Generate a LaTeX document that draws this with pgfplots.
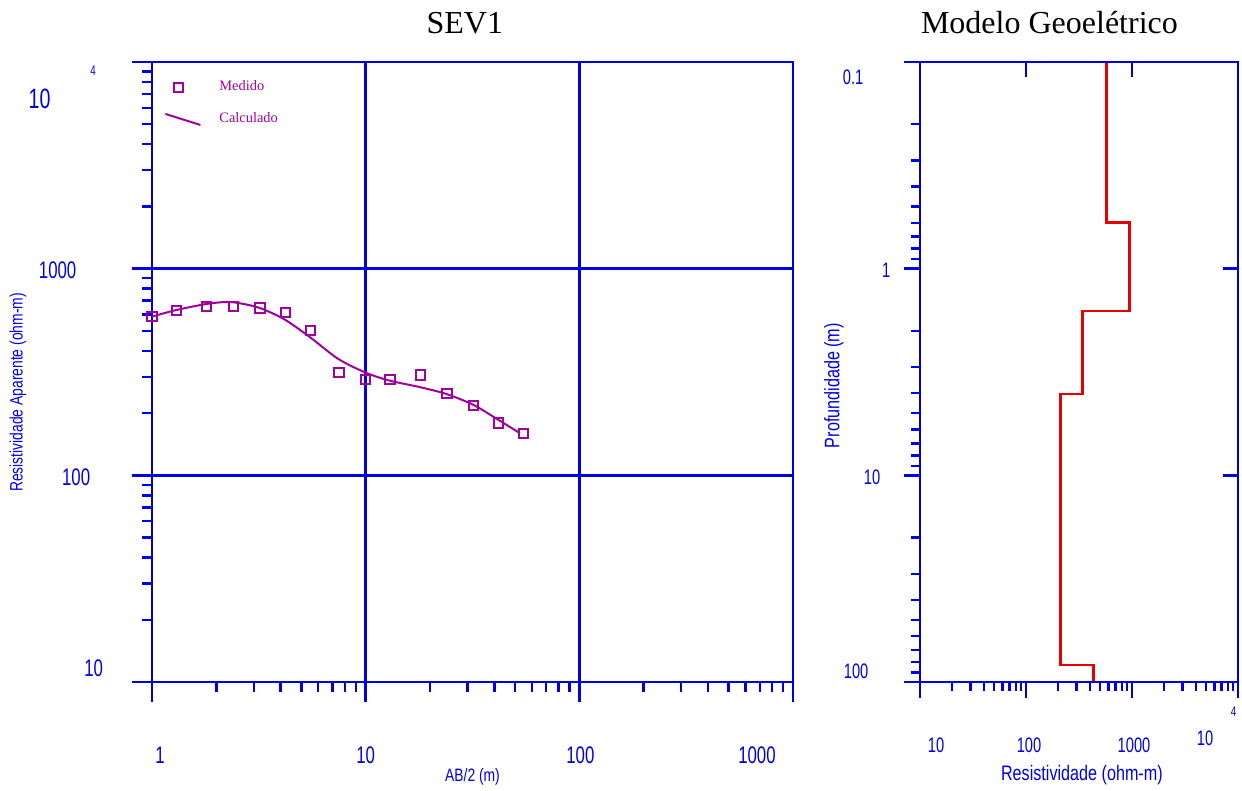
\documentclass[border=0pt]{standalone}
\usepackage{pgfplots}
\pgfplotsset{compat=1.18}
\usepackage{fontspec}
\setmainfont{Liberation Serif}
\newfontfamily\tickfont[FakeStretch=0.7]{Liberation Sans}
\newfontfamily\labfont[FakeStretch=0.77]{Liberation Sans}
\definecolor{axblue}{RGB}{0,0,230}
\definecolor{pur}{RGB}{160,0,160}
\definecolor{stepred}{RGB}{230,0,0}
\newlength\corrLy \setlength\corrLy{10pt}
\newlength\corrLx \setlength\corrLx{10pt}
\newlength\corrRy \setlength\corrRy{8pt}
\newlength\corrRx \setlength\corrRx{8pt}
% zero-size label whose visible centre is at (dx,dy) from the node point
\newcommand\TL[4]{\makebox[0pt][l]{\hspace*{\dimexpr#1\relax}\makebox[0pt]{\smash{\raisebox{\dimexpr#2-#3pt*358/1000\relax}{\fontsize{#3}{#3}\selectfont #4}}}}}
\newcommand\LY[4]{\TL{#1+\corrLy}{#2}{#3}{#4}}
\newcommand\LX[4]{\TL{#1}{#2+\corrLx}{#3}{#4}}
\newcommand\RY[4]{\TL{#1+\corrRy}{#2}{#3}{#4}}
\newcommand\RX[4]{\TL{#1}{#2+\corrRx}{#3}{#4}}

\pgfplotstableread{
ab rho
1.0 586
1.3 626
1.8 658
2.4 655
3.2 645
4.2 615
5.5 500
7.5 315
10 290
13 290
18 306
24 248
32 217
42 179
55 159
}\medido

\pgfplotstableread{
ab rho
1.0 586
1.3 631
1.8 675
2.24 690
2.58 680
3.2 645
4.16 569
5.49 466
7.44 366
10 314
13 287
18 267
24 247
32 219
42 185
52.7 160
}\calculado

\pgfplotstableread{
res depth
577 0.1
577 0.599
943 0.599
943 1.602
340 1.602
340 4.04
212 4.04
212 82.6
431 82.6
431 100
}\modelo

\begin{document}
\begin{tikzpicture}
% ---------------- left: SEV1 ----------------
\begin{axis}[
  at={(76pt,-31pt)}, anchor=north west,
  scale only axis, width=320.5pt, height=310pt,
  xmode=log, ymode=log,
  xmin=1, xmax=1000, ymin=10, ymax=10000,
  xtick={1,10,100,1000}, ytick={10,100,1000,10000},
  minor xtick={2,3,4,5,6,7,8,9,20,30,40,50,60,70,80,90,200,300,400,500,600,700,800,900},
  minor ytick={20,30,40,50,60,70,80,90,200,300,400,500,600,700,800,900,2000,3000,4000,5000,6000,7000,8000,9000},
  xtick pos=left, ytick pos=left, tick align=outside,
  major tick length=10pt, minor tick length=5pt,
  grid=major, major grid style={axblue, line width=1.2pt},
  axis line style={axblue, line width=1.3pt},
  tick style={axblue, line width=1.2pt},
  ticklabel style={inner sep=0pt, font=\tickfont, text=axblue},
  xticklabels={{\LX{4pt}{-36pt}{12}{1}},{\LX{0pt}{-36pt}{12}{10}},{\LX{0.5pt}{-36pt}{12}{100}},{\LX{-18pt}{-36pt}{12}{1000}}},
  yticklabels={{\LY{-28.5pt}{7pt}{12}{10}},{\LY{-37.25pt}{-1pt}{12}{100}},{\LY{-46.5pt}{-0.5pt}{12}{1000}},{\LY{-55.5pt}{-18pt}{14}{10}\LY{-28.75pt}{-4pt}{7}{4}}},
  xlabel={AB/2 (m)},
  ylabel={Resistividade Aparente (ohm-m)},
  xlabel style={at={(axis description cs:0.5,-0.153)}, anchor=center, font=\labfont\fontsize{9}{9}\selectfont, text=axblue},
  ylabel style={at={(axis description cs:-0.209,0.467)}, anchor=center, font=\labfont\fontsize{9}{9}\selectfont, text=axblue},
  title={SEV1},
  title style={at={(axis description cs:0.488,1.0274)}, anchor=base, font=\fontsize{16}{16}\selectfont},
  legend cell align=left,
  legend style={draw=none, fill=none, at={(axis description cs:0.0094,0.9765)}, anchor=north west,
    nodes={inner sep=0pt, text=pur, font=\fontsize{7.2}{7.2}\selectfont},
    row sep=9.5pt, column sep=9pt},
]
\addplot[pur, only marks, mark=square, mark size=2.3pt, mark options={line width=1pt, solid},
  legend image code/.code={\path[draw=none,fill=none] (0pt,-2.75pt) rectangle (17.5pt,2.75pt); \draw[pur, line width=1pt, mark=square, mark size=2.3pt] plot coordinates {(6.5pt,0pt)};}]
  table[x=ab, y=rho] {\medido};
\addlegendentry{Medido}
\addplot[pur, line width=1pt, smooth, tension=0.5, no marks,
  legend image code/.code={\draw[pur, line width=1pt] (0pt,2.75pt) -- (17.5pt,-2.75pt);}]
  table[x=ab, y=rho] {\calculado};
\addlegendentry{Calculado}
\end{axis}

% ---------------- right: Modelo Geoeletrico ----------------
\begin{axis}[
  at={(460pt,-31pt)}, anchor=north west,
  scale only axis, width=159pt, height=310pt,
  xmode=log, ymode=log, y dir=reverse,
  xmin=10, xmax=10000, ymin=0.1, ymax=100,
  xtick={10,100,1000,10000}, ytick={0.1,1,10,100},
  minor xtick={20,30,40,50,60,70,80,90,200,300,400,500,600,700,800,900,2000,3000,4000,5000,6000,7000,8000,9000},
  minor ytick={0.2,0.3,0.4,0.5,0.6,0.7,0.8,0.9,2,3,4,5,6,7,8,9,20,30,40,50,60,70,80,90},
  xtick pos=left, ytick pos=left, tick align=outside,
  major tick length=8pt, minor tick length=4.5pt,
  axis line style={axblue, line width=1.3pt},
  tick style={axblue, line width=1.2pt},
  ticklabel style={inner sep=0pt, font=\tickfont, text=axblue},
  xticklabels={{\RX{8pt}{-31pt}{10.5}{10}},{\RX{1.5pt}{-31pt}{10.5}{100}},{\RX{1pt}{-31pt}{10.5}{1000}},{\RX{-16.5pt}{-27.5pt}{10.5}{10}\RX{-2.25pt}{-14pt}{7}{4}}},
  yticklabels={{\RY{-32.75pt}{-7.5pt}{10.5}{0.1}},{\RY{-16.25pt}{-0.5pt}{10.5}{1}},{\RY{-23.25pt}{-1pt}{10.5}{10}},{\RY{-31.25pt}{5.5pt}{10.5}{100}}},
  xlabel={Resistividade (ohm-m)},
  ylabel={Profundidade (m)},
  xlabel style={at={(axis description cs:0.509,-0.150)}, anchor=center, font=\labfont\fontsize{10.5}{10.5}\selectfont, text=axblue},
  ylabel style={at={(axis description cs:-0.2704,0.478)}, anchor=center, font=\labfont\fontsize{10.5}{10.5}\selectfont, text=axblue},
  title={Modelo Geoelétrico},
  title style={at={(axis description cs:0.407,1.0274)}, anchor=base, font=\fontsize{16}{16}\selectfont},
]
\addplot[stepred, line width=1.3pt, no marks] table[x=res, y=depth] {\modelo};
\end{axis}
% inward ticks on top and right of the model panel
\begin{axis}[
  at={(460pt,-31pt)}, anchor=north west,
  scale only axis, width=159pt, height=310pt,
  xmode=log, ymode=log, y dir=reverse,
  xmin=10, xmax=10000, ymin=0.1, ymax=100,
  xtick={100,1000}, ytick={1,10},
  xtick pos=right, ytick pos=right, tick align=inside,
  major tick length=7.5pt, minor tick length=0pt,
  axis line style={axblue, line width=1.3pt},
  tick style={axblue, line width=1.2pt},
  xticklabels={}, yticklabels={},
]
\end{axis}
\pgfresetboundingbox
\useasboundingbox (0,0) rectangle (621pt,-395.5pt);
\end{tikzpicture}
\end{document}
